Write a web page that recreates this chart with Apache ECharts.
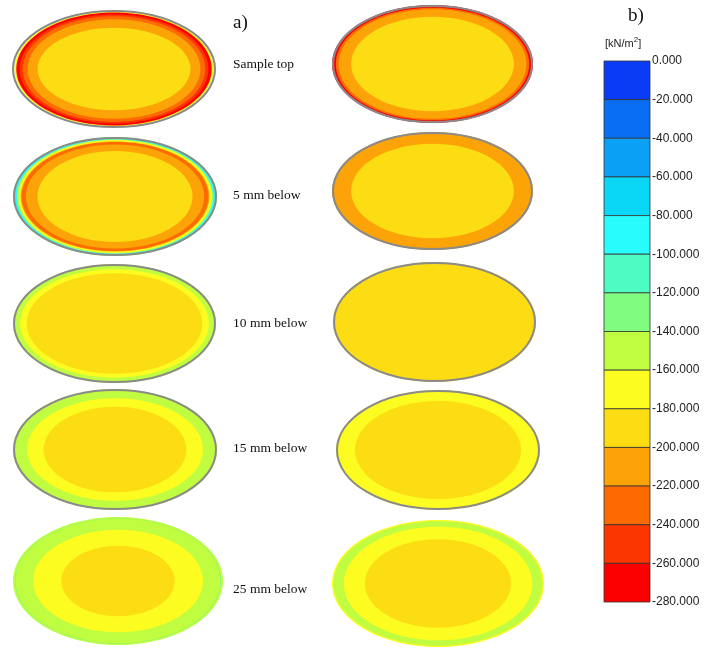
<!DOCTYPE html>
<head>
    <meta charset="utf-8">
    <title>ECharts</title>
</head>
<body style="margin:0;background:#fff">
    <div id="main" style="width:705px;height:648px"></div>
    <script src="https://cdn.jsdelivr.net/npm/echarts@6/dist/echarts.min.js"></script>
    <script type="text/javascript">
var myChart = echarts.init(document.getElementById('main'));

// legend levels [kN/m2] and the colour of each 20 kN/m2 band
var levels = [0, -20, -40, -60, -80, -100, -120, -140, -160, -180, -200, -220, -240, -260, -280];
var palette = ['#0a3cf5', '#0a6ef5', '#0aa0f5', '#0ad6f5', '#28fcfc', '#4cfcc2', '#80fc80',
               '#c0fc40', '#fcfc20', '#fcdc12', '#fca308', '#fc6a00', '#fc3600', '#fc0000'];

var rowLabels = ['Sample top', '5 mm below', '10 mm below', '15 mm below', '25 mm below'];

// contour bands of each section, outer to inner: [rx fraction, ry fraction, stress]
var leftBands = [
    [[1, 1, null], [0.975, 0.975, -170], [0.958, 0.958, -270], [0.925, 0.925, -250],
     [0.895, 0.895, -230], [0.848, 0.845, -210], [0.75, 0.70, -190]],
    [[1, 1, -130], [0.985, 0.985, -90], [0.96, 0.96, -150], [0.945, 0.945, -170],
     [0.925, 0.925, -210], [0.915, 0.915, -230], [0.875, 0.875, -210], [0.76, 0.765, -190]],
    [[1, 1, -150], [0.93, 0.91, -170], [0.865, 0.845, -190]],
    [[1, 1, -150], [0.863, 0.846, -170], [0.70, 0.708, -190]],
    [[1, 1, -150], [0.982, 0.982, -130], [0.975, 0.975, -150], [0.81, 0.80, -170], [0.54, 0.55, -190]]
];
var rightBands = [
    [[1, 1, -270], [0.962, 0.955, -230], [0.935, 0.93, -210], [0.81, 0.80, -190]],
    [[1, 1, -210], [0.81, 0.80, -190]],
    [[1, 1, -190]],
    [[1, 1, -170], [0.814, 0.817, -190]],
    [[1, 1, -170], [0.985, 0.98, -150], [0.89, 0.895, -170], [0.69, 0.696, -190]]
];

// panel boxes [left, top, width, height]
var leftBoxes = [[12, 10, 204, 118], [13, 137, 204, 119], [13, 264, 203, 119], [13, 389, 204, 121], [13, 517, 210, 128]];
var rightBoxes = [[332, 5, 201, 118], [332, 132, 201, 118], [333, 262, 203, 120], [336, 390, 204, 120], [332, 520, 212, 127]];
var labelTops = [57, 188, 316, 441, 582];

function colorOf(v) {
    if (v == null) return '#f5faec';
    return palette[Math.min(13, Math.floor(-v / 20))];
}

var grid = [], xAxis = [], yAxis = [], series = [], title = [];

function addPanel(box, bands, outlined) {
    var k = grid.length;
    grid.push({left: box[0], top: box[1], width: box[2], height: box[3]});
    xAxis.push({gridIndex: k, type: 'value', min: -1, max: 1, show: false});
    yAxis.push({gridIndex: k, type: 'value', min: -1, max: 1, show: false});
    series.push({
        type: 'custom', xAxisIndex: k, yAxisIndex: k, clip: false, silent: true,
        data: bands.map(function (b) { return [b[0], b[1]]; }),
        renderItem: function (params, api) {
            var c = api.coord([0, 0]);
            var s = api.size([api.value(0), api.value(1)]);
            return {
                type: 'ellipse',
                shape: {cx: c[0], cy: c[1], rx: s[0], ry: s[1]},
                style: {fill: colorOf(bands[params.dataIndex][2])}
            };
        }
    });
    if (outlined) {
        series.push({
            type: 'custom', xAxisIndex: k, yAxisIndex: k, clip: false, silent: true, z: 3,
            data: [[1, 1]],
            renderItem: function (params, api) {
                var c = api.coord([0, 0]);
                var s = api.size([api.value(0), api.value(1)]);
                return {
                    type: 'ellipse',
                    shape: {cx: c[0], cy: c[1], rx: s[0] - 1, ry: s[1] - 1},
                    style: {fill: 'none', stroke: '#8a8a8a', lineWidth: 2}
                };
            }
        });
    }
}

for (var r = 0; r < 5; r++) {
    addPanel(leftBoxes[r], leftBands[r], r < 4);
    addPanel(rightBoxes[r], rightBands[r], r < 4);
    title.push({
        text: rowLabels[r], left: 233, top: labelTops[r], padding: 0,
        textStyle: {fontFamily: 'Liberation Serif', fontSize: 13.5, fontWeight: 'normal', color: '#111'}
    });
}

// colour scale
var lg = grid.length;
grid.push({left: 604, top: 61, width: 46, height: 541});
xAxis.push({gridIndex: lg, type: 'value', min: 0, max: 1, show: false});
yAxis.push({
    gridIndex: lg, type: 'value', min: -280, max: 0, interval: 20, position: 'right',
    axisLine: {show: false}, axisTick: {show: false}, splitLine: {show: false},
    axisLabel: {
        margin: 2, fontFamily: 'Liberation Sans', fontSize: 12, color: '#222',
        formatter: function (v) { return v.toFixed(3); }
    }
});
var legendData = [];
for (var i = 0; i < levels.length - 1; i++) legendData.push([levels[i], levels[i + 1]]);
series.push({
    type: 'custom', xAxisIndex: lg, yAxisIndex: lg, clip: false, silent: true,
    data: legendData,
    renderItem: function (params, api) {
        var p1 = api.coord([0, api.value(0)]);
        var p2 = api.coord([1, api.value(1)]);
        return {
            type: 'rect',
            shape: {x: p1[0], y: p1[1], width: p2[0] - p1[0], height: p2[1] - p1[1]},
            style: {fill: palette[params.dataIndex], stroke: '#333', lineWidth: 0.8}
        };
    }
});

title.push({
    text: 'a)', left: 233, top: 14, padding: 0,
    textStyle: {fontFamily: 'Liberation Serif', fontSize: 19, fontWeight: 'normal', color: '#111'}
});
title.push({
    text: 'b)', left: 628, top: 7, padding: 0,
    textStyle: {fontFamily: 'Liberation Serif', fontSize: 19, fontWeight: 'normal', color: '#111'}
});
title.push({
    text: '{a|[kN/m}{s|2}{a|]}', left: 605, top: 36, padding: 0,
    textStyle: {
        fontWeight: 'normal',
        rich: {
            a: {fontFamily: 'Liberation Sans', fontSize: 11, fontWeight: 'normal', color: '#222', verticalAlign: 'bottom'},
            s: {fontFamily: 'Liberation Sans', fontSize: 8, fontWeight: 'normal', color: '#222', verticalAlign: 'top', padding: [0, 0, 5, 0]}
        }
    }
});

myChart.setOption({
    backgroundColor: '#fff',
    animation: false,
    title: title,
    grid: grid,
    xAxis: xAxis,
    yAxis: yAxis,
    series: series
});
    </script>
</body>
